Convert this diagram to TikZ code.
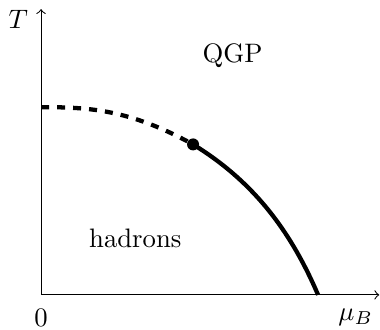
\documentclass[tikz,border=0pt]{standalone}
\usepackage{tikz}
\usetikzlibrary{calc,positioning}

\begin{document}
\begin{tikzpicture}[scale=1.0]
  \useasboundingbox (-0.54,-0.45) rectangle (4.46,3.88);

  % axes
  \coordinate (O) at (0,0);
  \coordinate (Tmax) at (0,3.76);
  \coordinate (mumax) at (4.45,0);
  \draw[->] (O) -- (mumax);
  \draw[->] (O) -- (Tmax);

  % crossover (dashed) and first-order line (solid)
  \coordinate (Tc) at (0,2.47);
  \coordinate (muc) at (3.645,0);
  \node[circle,fill=black,inner sep=0pt,minimum size=4.5pt] (cep) at (2,1.98) {};
  \draw[ultra thick,dashed] (Tc) .. controls (0.6,2.47) and (1.15,2.45) .. (cep.center);
  \draw[ultra thick] (cep.center) .. controls (2.75,1.52) and (3.26,0.90) .. (muc);

  % labels
  \node (Tlab) at (-0.30,3.62) {$T$};
  \node (mulab) at (4.14,-0.30) {$\mu_B$};
  \node (zero) at (0,-0.30) {$0$};
  \node (qgp) at (2.52,3.15) {QGP};
  \node (had) at (1.24,0.75) {hadrons};
\end{tikzpicture}
\end{document}
